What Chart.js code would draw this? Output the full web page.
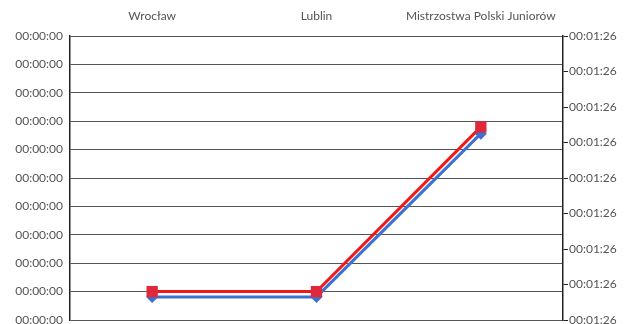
<!DOCTYPE html>
<html>
<head>
<meta charset="utf-8">
<script src="https://cdn.jsdelivr.net/npm/chart.js@4"></script>
<style>
  html, body { margin: 0; padding: 0; background: #fff; }
  #wrap { width: 624px; height: 324px; }
</style>
</head>
<body>
<div id="wrap"><canvas id="canva1" width="624" height="324"></canvas></div>
<script>
var categories = ['Wrocław', 'Lublin', 'Mistrzostwa Polski Juniorów'];
var redValues = [1, 1, 6.8];      // left axis
var blueValues = [0.65, 0.65, 5.25]; // right axis
var leftTickLabel = '00:00:00';
var rightTickLabel = '00:01:26';

Chart.defaults.font.family = 'Lato, "Open Sans", sans-serif';
Chart.defaults.font.size = 12;
Chart.defaults.color = '#555';

// drop the half-label overflow padding so the plot runs to the edges
function noPad(s) {
    s.paddingTop = 0;
    s.paddingBottom = 0;
}

var ctx = document.getElementById('canva1').getContext('2d');
var myChart = new Chart(ctx, {
    type: 'line',
    data: {
        labels: categories,
        datasets: [{
            label: 'czas 1',
            data: redValues,
            yAxisID: 'y',
            borderColor: '#f01818',
            backgroundColor: '#e0283c',
            borderWidth: 3,
            pointStyle: 'rect',
            pointRadius: 8,
            pointBorderWidth: 0,
            order: 1
        }, {
            label: 'czas 2',
            data: blueValues,
            yAxisID: 'y1',
            borderColor: '#3f72d0',
            backgroundColor: '#3f6fd0',
            borderWidth: 3,
            pointStyle: 'rectRot',
            pointRadius: 6,
            pointBorderWidth: 0,
            order: 2
        }]
    },
    options: {
        responsive: false,
        animation: false,
        layout: { autoPadding: false, padding: { left: 0, right: 0, top: 0, bottom: 4 } },
        plugins: { legend: { display: false }, tooltip: { enabled: false } },
        scales: {
            x: {
                position: 'top',
                offset: true,
                grid: { display: false, drawTicks: false },
                border: { display: false },
                ticks: { padding: 13, maxRotation: 0 },
                afterFit: function (s) { s.height = 36; }
            },
            y: {
                position: 'left',
                min: 0,
                max: 10,
                ticks: {
                    stepSize: 1,
                    padding: 7,
                    callback: function () { return leftTickLabel; }
                },
                grid: { color: '#555', lineWidth: 1, drawTicks: false },
                border: { display: true, color: '#222', width: 1.5 },
                afterFit: function (s) { s.width = 70; noPad(s); }
            },
            y1: {
                position: 'right',
                min: 0,
                max: 8,
                ticks: {
                    stepSize: 1,
                    padding: 1,
                    callback: function () { return rightTickLabel; }
                },
                grid: { drawOnChartArea: false, color: '#222', tickLength: 5 },
                border: { display: true, color: '#222', width: 1.5 },
                afterFit: function (s) { s.width = 61; noPad(s); }
            }
        }
    }
});
</script>
</body>
</html>
